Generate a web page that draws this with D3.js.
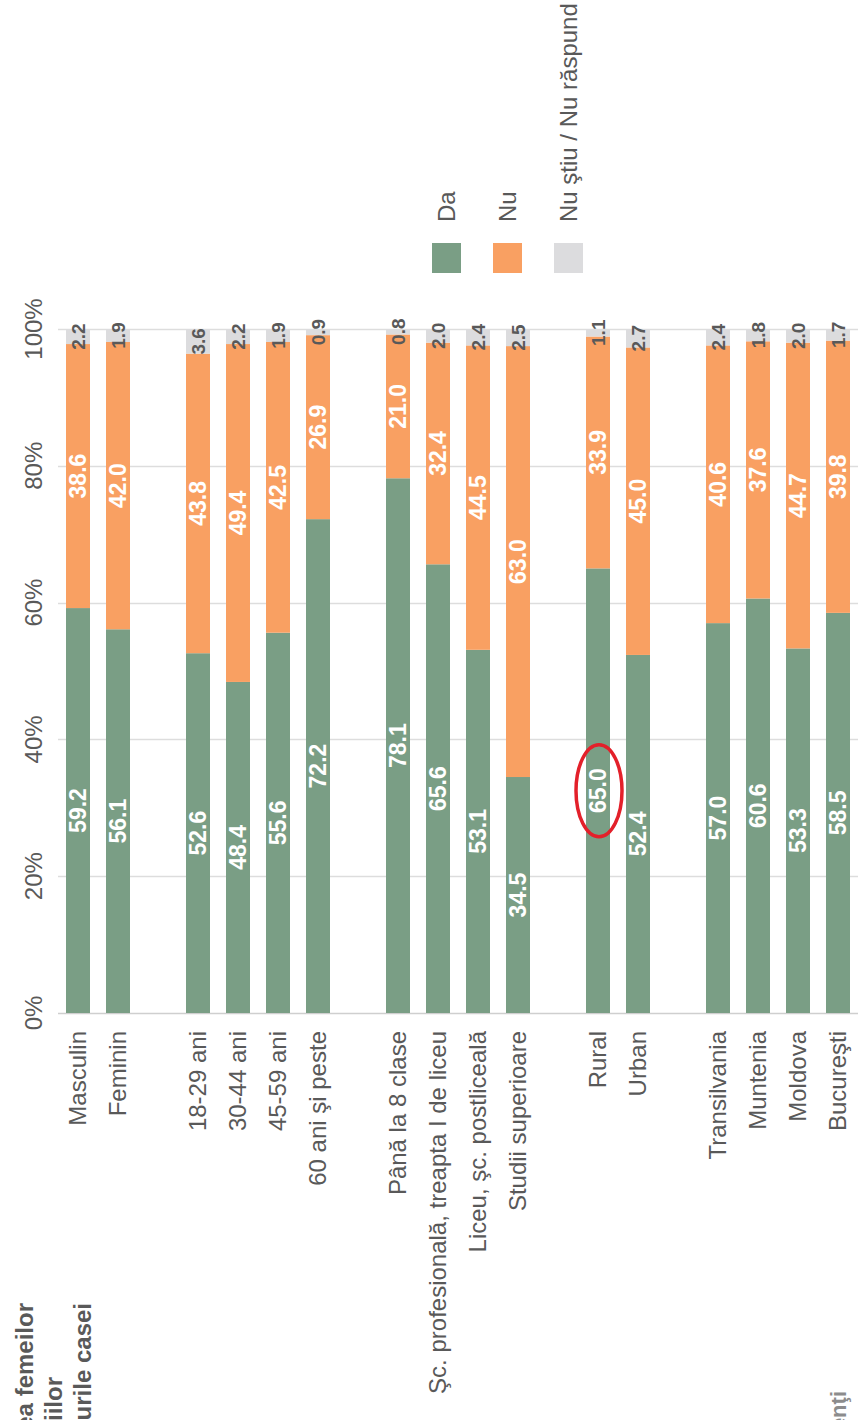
<!DOCTYPE html>
<html>
<head>
<meta charset="utf-8">
<script src="https://cdn.jsdelivr.net/npm/d3@7"></script>
<style>
    body { margin: 0; background: #fff; }
    svg { display: block; font-family: 'Liberation Sans', Arial, sans-serif; }
</style>
</head>
<body>
<svg id="svgChart" width="858" height="1420"></svg>
<script>
// categories in drawing order, null = gap between groups
let categories = [
    'Masculin', 'Feminin', null,
    '18-29 ani', '30-44 ani', '45-59 ani', '60 ani şi peste', null,
    'Până la 8 clase', 'Şc. profesională, treapta I de liceu', 'Liceu, şc. postliceală', 'Studii superioare', null,
    'Rural', 'Urban', null,
    'Transilvania', 'Muntenia', 'Moldova', 'Bucureşti'
];
let daValues = [59.2, 56.1, 52.6, 48.4, 55.6, 72.2, 78.1, 65.6, 53.1, 34.5, 65.0, 52.4, 57.0, 60.6, 53.3, 58.5];
let nuValues = [38.6, 42.0, 43.8, 49.4, 42.5, 26.9, 21.0, 32.4, 44.5, 63.0, 33.9, 45.0, 40.6, 37.6, 44.7, 39.8];
let nsValues = [2.2, 1.9, 3.6, 2.2, 1.9, 0.9, 0.8, 2.0, 2.4, 2.5, 1.1, 2.7, 2.4, 1.8, 2.0, 1.7];
let seriesNames = ['Da', 'Nu', 'Nu ştiu / Nu răspund'];
let yTicks = [0, 0.2, 0.4, 0.6, 0.8, 1];
let titleLines = ['Implicarea femeilor', 'şi în creşterea copiilor', 'în treburile casei'];
let footText = 'Bază: total respondenţi';
let highlighted = 'Rural';

function init() {
    let colors = ['#7a9e85', '#f9a062', '#dcdcde'];
    let textGrey = '#595959';
    let svg = d3.select('#svgChart');

    let slots = categories.map((c, i) => c === null ? 'gap' + i : c);
    let names = categories.filter(c => c !== null);
    let rows = names.map((n, i) => ({ name: n, Da: daValues[i], Nu: nuValues[i], NS: nsValues[i] }));

    let x = d3.scaleBand().domain(slots).range([58, 858]).paddingInner(0.4).paddingOuter(0.2);
    let y = d3.scaleLinear().domain([0, 1]).range([1013, 329]);

    let stack = d3.stack().keys(['Da', 'Nu', 'NS']).offset(d3.stackOffsetExpand);
    let layers = stack(rows);

    // grid lines
    svg.append('g').selectAll('line').data(yTicks).join('line')
        .attr('x1', 58)
        .attr('x2', 858)
        .attr('y1', d => Math.round(y(d)) + 0.5)
        .attr('y2', d => Math.round(y(d)) + 0.5)
        .style('stroke', d => d === 0 ? '#cfcfcf' : '#dddddd')
        .style('stroke-width', 1.5);

    // y tick labels (rotated)
    svg.append('g').selectAll('text').data(yTicks).join('text')
        .attr('transform', d => `translate(34, ${y(d)}) rotate(-90)`)
        .attr('text-anchor', 'middle')
        .attr('dy', '0.35em')
        .style('font-size', '24px')
        .style('fill', textGrey)
        .text(d => d3.format('.0%')(d));

    // bars
    svg.append('g').selectAll('g').data(layers).join('g')
        .style('fill', (d, i) => colors[i])
        .selectAll('rect').data(d => d).join('rect')
        .attr('x', d => x(d.data.name))
        .attr('width', x.bandwidth())
        .attr('y', d => y(d[1]))
        .attr('height', d => y(d[0]) - y(d[1]));

    // value labels
    layers.forEach((layer, li) => {
        svg.append('g').selectAll('text').data(layer).join('text')
            .attr('transform', d => `translate(${x(d.data.name) + x.bandwidth() / 2}, ${y((d[0] + d[1]) / 2)}) rotate(-90)`)
            .attr('text-anchor', 'middle')
            .attr('dy', '0.36em')
            .style('font-size', li === 2 ? '19px' : '23px')
            .style('font-weight', 'bold')
            .style('fill', li === 2 ? textGrey : '#ffffff')
            .text(d => d3.format('.1f')(d.data[layer.key]));
    });

    // category labels
    svg.append('g').selectAll('text').data(names).join('text')
        .attr('transform', d => `translate(${x(d) + x.bandwidth() / 2}, 1031) rotate(-90)`)
        .attr('text-anchor', 'end')
        .attr('dy', '0.35em')
        .style('font-size', '24px')
        .style('fill', textGrey)
        .text(d => d);

    // highlight ring
    let hi = layers[0].find(d => d.data.name === highlighted);
    svg.append('ellipse')
        .attr('cx', x(highlighted) + x.bandwidth() / 2 + 1)
        .attr('cy', y((hi[0] + hi[1]) / 2))
        .attr('rx', 23)
        .attr('ry', 46)
        .style('fill', 'none')
        .style('stroke', '#e3202a')
        .style('stroke-width', 3.5);

    // legend
    let legend = svg.append('g').selectAll('g').data(seriesNames).join('g')
        .attr('transform', (d, i) => `translate(${432 + i * 61}, 243)`);
    legend.append('rect')
        .attr('width', 29)
        .attr('height', 30)
        .style('fill', (d, i) => colors[i]);
    legend.append('text')
        .attr('transform', 'translate(14.5, -21) rotate(-90)')
        .attr('dy', '0.35em')
        .style('font-size', '24px')
        .style('fill', textGrey)
        .text(d => d);

    // title, cut by the bottom edge
    svg.append('g').selectAll('text').data(titleLines).join('text')
        .attr('transform', (d, i) => `translate(${33 + i * 29}, ${i === 1 ? 1377 : 1303}) rotate(-90)`)
        .attr('text-anchor', 'end')
        .style('font-size', '24px')
        .style('font-weight', 'bold')
        .style('fill', textGrey)
        .text(d => d);

    svg.append('text')
        .attr('transform', 'translate(846, 1391) rotate(-90)')
        .attr('text-anchor', 'end')
        .style('font-size', '22px')
        .style('font-weight', 'bold')
        .style('fill', '#8c8c8c')
        .text(footText);
}

init();
</script>
</body>
</html>
